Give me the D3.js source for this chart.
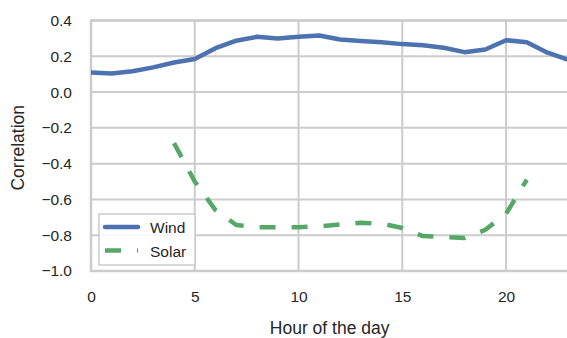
<!DOCTYPE html>
<html>
<head>
<meta charset="utf-8">
<script src="https://cdn.jsdelivr.net/npm/d3@7"></script>
<style>
  body { margin: 0; background: #fff; }
  text { font-family: "Liberation Sans", Arial, sans-serif; fill: #262626; }
</style>
</head>
<body>
<div id="viz"></div>
<script>
// data
const hours = d3.range(0, 24);
const wind = [0.11, 0.104, 0.116, 0.138, 0.165, 0.185, 0.245, 0.287, 0.309, 0.30,
  0.309, 0.316, 0.294, 0.285, 0.278, 0.268, 0.262, 0.248, 0.223, 0.238,
  0.29, 0.279, 0.22, 0.18];
const solar = [null, null, null, null, -0.285, -0.50, -0.66, -0.743, -0.755, -0.755,
  -0.755, -0.75, -0.74, -0.73, -0.735, -0.76, -0.805, -0.81, -0.815, -0.77,
  -0.68, -0.49, null, null];
const xTicks = [0, 5, 10, 15, 20];
const yTicks = [-1.0, -0.8, -0.6, -0.4, -0.2, 0.0, 0.2, 0.4];
const seriesNames = ['Wind', 'Solar'];

const width = 567;
const height = 338;
const margin = { top: 20.5, left: 91, bottom: 67 };
const plotW = 477.3;
const plotH = height - margin.top - margin.bottom;

const blue = '#4C72B0';
const green = '#55A868';
const gridCol = '#cccccc';

const svg = d3.select('#viz')
  .append('svg')
  .attr('width', width)
  .attr('height', height);

const xScale = d3.scaleLinear().domain([0, 23]).range([margin.left, margin.left + plotW]);
const yScale = d3.scaleLinear().domain([-1.0, 0.4]).range([margin.top + plotH, margin.top]);

// grid
const grid = svg.append('g').attr('class', 'grid');
grid.selectAll('line.gx')
  .data(xTicks)
  .enter()
  .append('line')
  .attr('x1', d => xScale(d)).attr('x2', d => xScale(d))
  .attr('y1', yScale(0.4)).attr('y2', yScale(-1.0))
  .attr('stroke', gridCol)
  .attr('stroke-width', 2);
grid.selectAll('line.gy')
  .data(yTicks)
  .enter()
  .append('line')
  .attr('x1', xScale(0)).attr('x2', xScale(23))
  .attr('y1', d => yScale(d)).attr('y2', d => yScale(d))
  .attr('stroke', gridCol)
  .attr('stroke-width', 2);

// frame
svg.append('rect')
  .attr('x', xScale(0))
  .attr('y', yScale(0.4))
  .attr('width', xScale(23) - xScale(0))
  .attr('height', yScale(-1.0) - yScale(0.4))
  .attr('fill', 'none')
  .attr('stroke', gridCol)
  .attr('stroke-width', 2.5);

// axes (labels only, seaborn style)
const fmt = d => d3.format('.1f')(d).replace('-', '\u2212');
const xAxis = svg.append('g')
  .attr('transform', `translate(0,${yScale(-1.0)})`)
  .call(d3.axisBottom(xScale).tickValues(xTicks).tickSize(0).tickPadding(20).tickFormat(d3.format('d')));
const yAxis = svg.append('g')
  .attr('transform', `translate(${xScale(0)},0)`)
  .call(d3.axisLeft(yScale).tickValues(yTicks).tickSize(0).tickPadding(19).tickFormat(fmt));
[xAxis, yAxis].forEach(a => {
  a.select('.domain').remove();
  a.selectAll('text')
    .style('font-family', '"Liberation Sans", Arial, sans-serif')
    .style('font-size', '15.5px')
    .attr('fill', '#262626');
});

// lines
const line = d3.line()
  .defined(d => d.y !== null)
  .x(d => xScale(d.x))
  .y(d => yScale(d.y));

svg.append('clipPath').attr('id', 'clip')
  .append('rect')
  .attr('x', xScale(0)).attr('y', 0)
  .attr('width', plotW).attr('height', height);

const lines = svg.append('g').attr('clip-path', 'url(#clip)');

lines.append('path')
  .datum(hours.map((h, i) => ({ x: h, y: wind[i] })))
  .attr('d', line)
  .attr('fill', 'none')
  .attr('stroke', blue)
  .attr('stroke-width', 4.5)
  .attr('stroke-linejoin', 'round')
  .attr('stroke-linecap', 'round');

lines.append('path')
  .datum(hours.map((h, i) => ({ x: h, y: solar[i] })))
  .attr('d', line)
  .attr('fill', 'none')
  .attr('stroke', green)
  .attr('stroke-width', 4.5)
  .attr('stroke-dasharray', '16 16')
  .attr('stroke-linejoin', 'round');

// axis titles
svg.append('text')
  .attr('x', xScale(0) + plotW / 2)
  .attr('y', 334)
  .attr('text-anchor', 'middle')
  .style('font-size', '17.5px')
  .text('Hour of the day');

svg.append('text')
  .attr('transform', `translate(24,${margin.top + plotH / 2 + 2}) rotate(-90)`)
  .attr('text-anchor', 'middle')
  .style('font-size', '17.5px')
  .text('Correlation');

// legend
const legend = svg.append('g');
legend.append('rect')
  .attr('x', 99).attr('y', 214)
  .attr('width', 96).attr('height', 51)
  .attr('fill', 'white')
  .attr('fill-opacity', 0.85)
  .attr('stroke', gridCol)
  .attr('stroke-width', 1.5);

const legendItems = legend.selectAll('g.item')
  .data(seriesNames)
  .enter()
  .append('g')
  .attr('transform', (d, i) => `translate(105,${227 + i * 23.5})`);

legendItems.append('line')
  .attr('x1', 0).attr('x2', 33)
  .attr('y1', 0).attr('y2', 0)
  .attr('stroke', (d, i) => i === 0 ? blue : green)
  .attr('stroke-width', 4.5)
  .attr('stroke-linecap', (d, i) => i === 0 ? 'round' : 'butt')
  .attr('stroke-dasharray', (d, i) => i === 0 ? null : '16 16');

legendItems.append('text')
  .attr('x', 45)
  .attr('y', 6)
  .style('font-size', '15.5px')
  .text(d => d);
</script>
</body>
</html>
